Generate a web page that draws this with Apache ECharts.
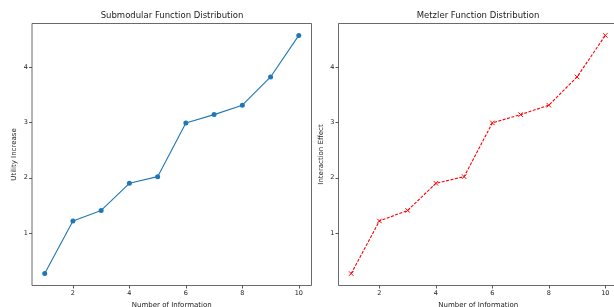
<!DOCTYPE html>
<html><head><meta charset="utf-8">
<script src="https://cdn.jsdelivr.net/npm/echarts@6/dist/echarts.min.js"></script>
<style>html,body{margin:0;padding:0;background:#fff}#c{width:614px;height:307px}</style>
</head><body><div id="c"></div>
<script>
const xValues = [1, 2, 3, 4, 5, 6, 7, 8, 9, 10];
const utilityIncrease = [0.27, 1.22, 1.41, 1.90, 2.02, 2.99, 3.14, 3.31, 3.82, 4.57];
const interactionEffect = [0.27, 1.22, 1.41, 1.90, 2.02, 2.99, 3.14, 3.31, 3.82, 4.57];
const xTicks = [2, 4, 6, 8, 10];
const yTicks = [1, 2, 3, 4];
const titles = ['Submodular Function Distribution', 'Metzler Function Distribution'];
const yNames = ['Utility Increase', 'Interaction Effect'];
const xName = 'Number of Information';

const FONT = 'DejaVu Sans';
const chart = echarts.init(document.getElementById('c'), null, {renderer: 'canvas'});
const pair = (a, b) => a.map((v, i) => [v, b[i]]);
const xMin = 0.55, xMax = 10.45;
const yMin = 0.055, yMax = 4.785;

function xAxis(gi) {
  return {
    type: 'value', gridIndex: gi, min: xMin, max: xMax,
    name: xName, nameLocation: 'middle', nameGap: 13,
    nameTextStyle: {fontFamily: FONT, fontSize: 7, color: '#222'},
    axisLine: {show: false},
    splitLine: {show: false},
    axisTick: {show: true, length: 3, lineStyle: {color: '#333', width: 0.8}, customValues: xTicks},
    axisLabel: {fontFamily: FONT, fontSize: 6.5, color: '#222', margin: 4, customValues: xTicks}
  };
}
function yAxis(gi) {
  return {
    type: 'value', gridIndex: gi, min: yMin, max: yMax,
    name: yNames[gi], nameLocation: 'middle', nameGap: 14, nameRotate: 90,
    nameTextStyle: {fontFamily: FONT, fontSize: 7, color: '#222'},
    axisLine: {show: false},
    splitLine: {show: false},
    axisTick: {show: true, length: 3, lineStyle: {color: '#333', width: 0.8}, customValues: yTicks},
    axisLabel: {fontFamily: FONT, fontSize: 6.5, color: '#222', margin: 4, customValues: yTicks}
  };
}

chart.setOption({
  animation: false,
  backgroundColor: '#fff',
  title: [
    {text: titles[0], left: 172, top: 11, padding: 0, textAlign: 'center',
     textStyle: {fontFamily: FONT, fontSize: 8.5, fontWeight: 'normal', color: '#222'}},
    {text: titles[1], left: 478, top: 11, padding: 0, textAlign: 'center',
     textStyle: {fontFamily: FONT, fontSize: 8.5, fontWeight: 'normal', color: '#222'}}
  ],
  grid: [
    {left: 32, top: 23.5, width: 279.5, height: 262, show: true, borderColor: '#444', borderWidth: 0.8,
     backgroundColor: 'transparent', outerBoundsMode: 'none', containLabel: false},
    {left: 338.5, top: 23.5, width: 279.5, height: 262, show: true, borderColor: '#444', borderWidth: 0.8,
     backgroundColor: 'transparent', outerBoundsMode: 'none', containLabel: false}
  ],
  xAxis: [xAxis(0), xAxis(1)],
  yAxis: [yAxis(0), yAxis(1)],
  series: [
    {type: 'line', xAxisIndex: 0, yAxisIndex: 0, data: pair(xValues, utilityIncrease),
     symbol: 'circle', symbolSize: 5, showAllSymbol: true,
     lineStyle: {color: '#1f77b4', width: 1.1},
     itemStyle: {color: '#1f77b4'}},
    {type: 'line', xAxisIndex: 1, yAxisIndex: 1, data: pair(xValues, interactionEffect),
     symbol: 'path://M0,0L10,10M10,0L0,10', symbolSize: 4.5, showAllSymbol: true,
     lineStyle: {color: '#ff0000', width: 1.1, type: [3, 1.5]},
     itemStyle: {color: 'none', borderColor: '#ff0000', borderWidth: 1}}
  ]
});
</script></body></html>
